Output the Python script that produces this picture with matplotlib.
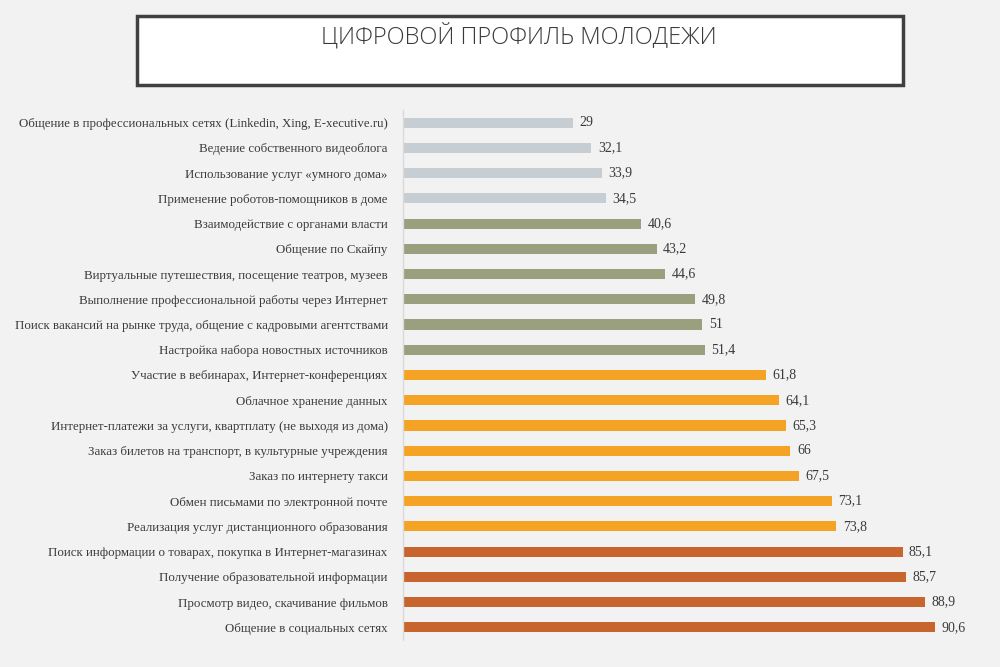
import matplotlib
matplotlib.use("Agg")
import matplotlib.pyplot as plt
from matplotlib.patches import Rectangle

title = "ЦИФРОВОЙ ПРОФИЛЬ МОЛОДЕЖИ"
categories = [
    "Общение в профессиональных сетях (Linkedin, Xing, E-xecutive.ru)",
    "Ведение собственного видеоблога",
    "Использование услуг «умного дома»",
    "Применение роботов-помощников в доме",
    "Взаимодействие с органами власти",
    "Общение по Скайпу",
    "Виртуальные путешествия, посещение театров, музеев",
    "Выполнение профессиональной работы через Интернет",
    "Поиск вакансий на рынке труда, общение с кадровыми агентствами",
    "Настройка набора новостных источников",
    "Участие в вебинарах, Интернет-конференциях",
    "Облачное хранение данных",
    "Интернет-платежи за услуги, квартплату (не выходя из дома)",
    "Заказ билетов на транспорт, в культурные учреждения",
    "Заказ по интернету такси",
    "Обмен письмами по электронной почте",
    "Реализация услуг дистанционного образования",
    "Поиск информации о товарах, покупка в Интернет-магазинах",
    "Получение образовательной информации",
    "Просмотр видео, скачивание фильмов",
    "Общение в социальных сетях",
]
values = [29, 32.1, 33.9, 34.5, 40.6, 43.2, 44.6, 49.8, 51, 51.4,
          61.8, 64.1, 65.3, 66, 67.5, 73.1, 73.8, 85.1, 85.7, 88.9, 90.6]
group_sizes = [4, 6, 7, 4]
group_colors = ["#c6ced3", "#9a9f7e", "#f5a324", "#c8652f"]

colors = []
for n, c in zip(group_sizes, group_colors):
    colors += [c] * n

bg = "#f2f2f2"
text_col = "#3a3a3a"
serif = ["Liberation Serif", "DejaVu Serif"]

fig = plt.figure(figsize=(10, 6.67), dpi=100, facecolor=bg)

# title box
fig.patches.append(Rectangle((0.137, 0.872), 0.766, 0.104, transform=fig.transFigure,
                             facecolor="white", edgecolor="#404040", linewidth=2.5))
fig.text(0.519, 0.946, title, ha="center", va="center", fontsize=17, weight="light",
         color=text_col, family=["Open Sans", "DejaVu Sans"])

ax = fig.add_axes([0.403, 0.0405, 0.587, 0.7946])
ax.set_facecolor(bg)
y = list(range(len(categories)))
ax.barh(y, values, height=0.4, color=colors)
ax.set_xlim(0, 100)
ax.set_ylim(len(categories) - 0.5, -0.5)
ax.set_yticks(y)
ax.set_yticklabels(categories, fontsize=9.3, color=text_col, family=serif)
ax.tick_params(axis="y", length=0, pad=11)
ax.set_xticks([])
for s in ["top", "right", "bottom"]:
    ax.spines[s].set_visible(False)
ax.spines["left"].set_color("#d9d9d9")
ax.spines["left"].set_linewidth(1)

for yi, v in zip(y, values):
    ax.text(v + 1.1, yi, f"{v:g}".replace(".", ","), va="center", ha="left",
            fontsize=10, color=text_col, family=serif)

fig.savefig("out.png", dpi=100, facecolor=bg)
